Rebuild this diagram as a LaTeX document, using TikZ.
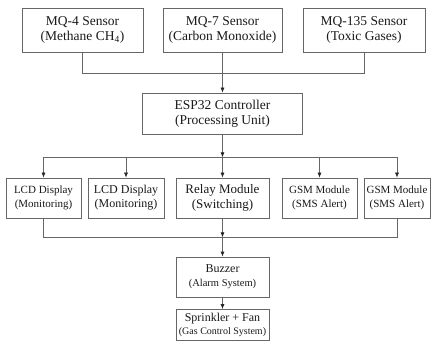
\documentclass[tikz,border=0pt]{standalone}
\usepackage{fontspec}
\setmainfont{Liberation Serif}
\usetikzlibrary{arrows.meta}

\begin{document}
\begin{tikzpicture}[
    x=1pt, y=-1pt,
    box/.style={draw=black!60, line width=0.7pt, text=black!90, align=center, inner sep=0pt},
    sensor/.style={box, minimum height=44pt, font=\fontsize{13.5}{15}\selectfont},
    ctrl/.style={box, minimum height=41pt, font=\fontsize{13.5}{15}\selectfont},
    outbox/.style={box, minimum height=40pt, font=\fontsize{11}{14}\selectfont},
    link/.style={draw=black!60, line width=0.7pt},
    arr/.style={link, -{Latex[length=5pt, width=4pt, color=black!85]}},
]

\useasboundingbox (0,0) rectangle (434,342);

% Draw the sensors
\node[sensor, minimum width=121pt] (MQ4) at (82.5,30) {MQ-4 Sensor\\(Methane CH\textsubscript{4})};
\node[sensor, minimum width=119pt] (MQ7) at (222.5,30) {MQ-7 Sensor\\(Carbon Monoxide)};
\node[sensor, minimum width=122pt] (MQ135) at (364,30) {MQ-135 Sensor\\(Toxic Gases)};

% Draw the controller
\node[ctrl, minimum width=160pt] (ESP) at (222.5,113.5) {ESP32 Controller\\(Processing Unit)};

% Draw the output modules
\node[outbox, minimum width=75pt] (LCD1) at (43.5,198) {LCD Display\\(Monitoring)};
\node[outbox, minimum width=76pt, font=\fontsize{12}{14}\selectfont] (LCD2) at (126,198) {LCD Display\\(Monitoring)};
\node[outbox, minimum width=93pt, font=\fontsize{13}{15}\selectfont] (Relay) at (222.5,198) {Relay Module\\(Switching)};
\node[outbox, minimum width=75pt] (GSM1) at (319.5,198) {GSM Module\\(SMS Alert)};
\node[outbox, minimum width=66pt] (GSM2) at (397,198) {GSM Module\\(SMS Alert)};

% Draw the alarm and control
\node[outbox, minimum width=93pt, font=\fontsize{12}{14}\selectfont] (Buzzer) at (222.5,277) {Buzzer\\{\fontsize{10.5}{12}\selectfont(Alarm System)}};
\node[outbox, minimum width=93pt, minimum height=31pt, font=\fontsize{12}{13}\selectfont] (Sprinkler) at (222.5,325) {Sprinkler + Fan\\{\fontsize{10}{11}\selectfont(Gas Control System)}};

% Draw the connections
\draw[link] (MQ4.south) -- ++(0,21) -| (MQ135.south);
\draw[arr] (MQ7.south) -- (ESP.north);

\draw[arr] (ESP.south) -- ++(0,23) coordinate (J2);
\draw[link] (J2 -| LCD1.north) -- (J2 -| GSM2.north);
\draw[arr] (J2 -| LCD1.north) -- (LCD1.north);
\draw[arr] (J2 -| LCD2.north) -- (LCD2.north);
\draw[arr] (J2) -- (Relay.north);
\draw[arr] (J2 -| GSM1.north) -- (GSM1.north);
\draw[arr] (J2 -| GSM2.north) -- (GSM2.north);

\draw[link] (LCD1.south) -- ++(0,19) -| (GSM2.south);
\draw[arr] (Relay.south) -- ++(0,19) coordinate (J3);
\draw[arr] (J3) -- (Buzzer.north);
\draw[arr] (Buzzer.south) -- (Sprinkler.north);

\end{tikzpicture}
\end{document}
